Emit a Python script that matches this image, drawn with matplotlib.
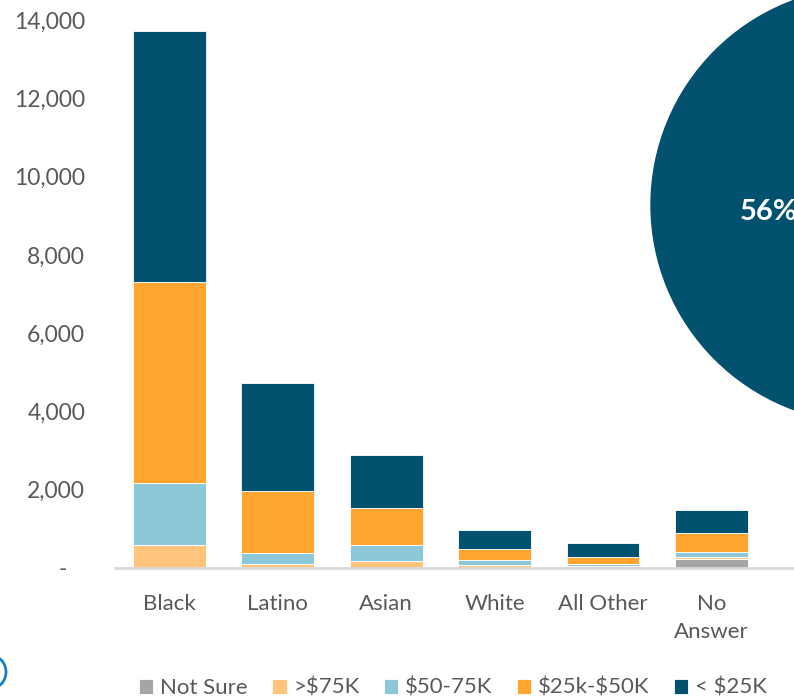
import matplotlib.pyplot as plt
from matplotlib.patches import Ellipse
import numpy as np

# data
categories = ['Black', 'Latino', 'Asian', 'White', 'All Other', 'No\nAnswer']
not_sure = [0, 0, 0, 0, 0, 240]
over_75k = [590, 100, 180, 80, 50, 50]
k50_75 = [1580, 280, 410, 120, 50, 110]
k25_50 = [5140, 1590, 940, 290, 180, 490]
under_25k = [6410, 2760, 1360, 480, 360, 590]
yticks = list(range(0, 14001, 2000))

series = [not_sure, over_75k, k50_75, k25_50, under_25k]
names = ['Not Sure', '>\\$75K', '\\$50-75K', '\\$25k-\\$50K', '< \\$25K']
colors = ['#a5a5a5', '#ffc57c', '#8cc8d8', '#ffa530', '#02516f']

plt.rcParams['font.family'] = ['Lato', 'DejaVu Sans']
grey = '#595959'

fig = plt.figure(figsize=(7.94, 6.99), dpi=100)
ax = fig.add_axes([115/794, (699-568)/699, 1 - 115/794, 548/699])

x = np.arange(len(categories))
bottom = np.zeros(len(categories))
for vals, nm, c in zip(series, names, colors):
    ax.bar(x, vals, 0.67, bottom=bottom, color=c, label=nm,
           edgecolor='white', linewidth=0.6)
    bottom += np.array(vals)

ax.set_xlim(-0.5, 5.76)
ax.set_ylim(0, 14000)
ax.set_yticks(yticks)
# accounting style: zero shown as a dash
ax.set_yticklabels(['-   '] + ['{:,}'.format(v) for v in yticks[1:]])
ax.set_xticks(x)
ax.set_xticklabels(categories, linespacing=1.5)
ax.tick_params(axis='y', length=0, pad=21.5, labelsize=16.5, labelcolor=grey)
ax.tick_params(axis='x', length=0, pad=19, labelsize=16, labelcolor=grey)
for s in ['top', 'right', 'left']:
    ax.spines[s].set_visible(False)
ax.spines['bottom'].set_color('#d9d9d9')
ax.spines['bottom'].set_linewidth(2)

# big circle on the right, cut by the edge
circ = Ellipse((869/794, 1 - 205/699), 2*218/794, 2*218/699,
               transform=fig.transFigure, color='#02516f', zorder=5)
fig.patches.append(circ)
fig.text(740/794, 1 - 212/699, '56%', color='white', fontsize=21,
         fontweight='bold', va='center', ha='left', zorder=6)

# partial logo at bottom left
logo = Ellipse((-6/794, 1 - 672/699), 24/794, 30/699, transform=fig.transFigure,
               fill=False, edgecolor='#1a7fc1', linewidth=2)
fig.patches.append(logo)

handles, labels = ax.get_legend_handles_labels()
fig.legend(handles, labels, loc='center', bbox_to_anchor=(453/794, 1 - 688/699),
           ncol=5, frameon=False, fontsize=16, labelcolor=grey,
           handlelength=0.65, handleheight=0.65, handletextpad=0.3,
           columnspacing=1.1)

fig.savefig('out.png', dpi=100)
